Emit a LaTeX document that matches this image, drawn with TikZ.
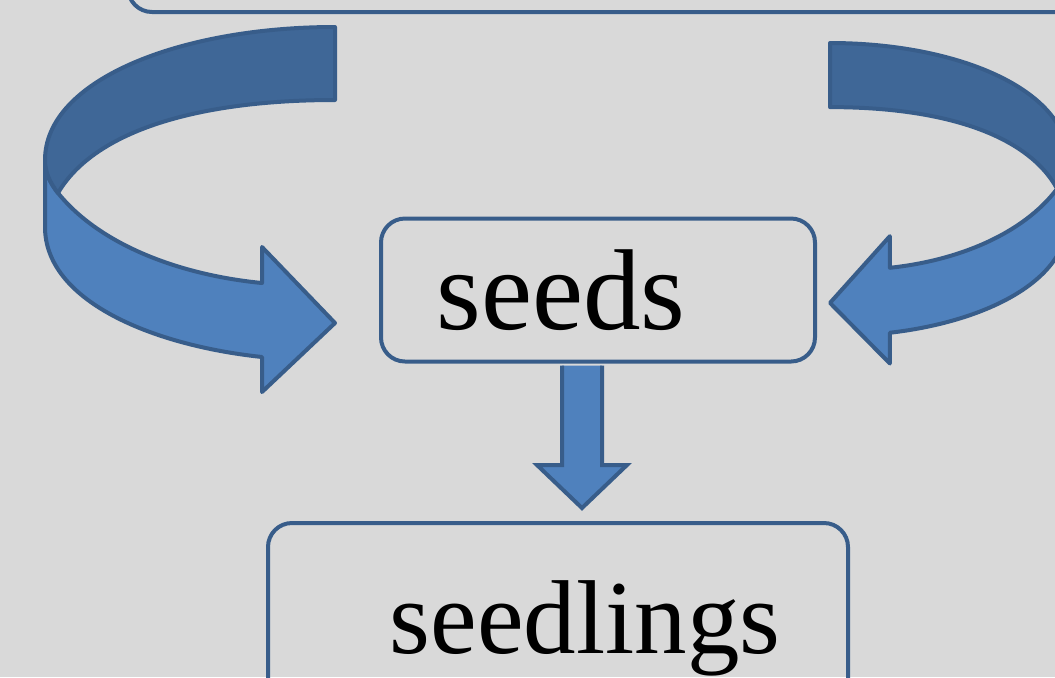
\documentclass[tikz,border=0pt]{standalone}
\usepackage{fontspec}
\setmainfont{Liberation Serif}
\usepackage{tikz}

\definecolor{panelgray}{HTML}{D9D9D9}
\definecolor{edgeblue}{HTML}{385D8A}
\definecolor{bandlight}{HTML}{4F81BD}
\definecolor{banddark}{HTML}{3F6797}

\tikzset{
  stagebox/.style={draw=edgeblue, line width=2pt, rounded corners=12pt, inner sep=0pt},
  lightband/.style={fill=bandlight, draw=edgeblue, line width=2pt, line join=round},
  darkband/.style={fill=banddark, draw=edgeblue, line width=2pt, line join=round}
}

% one bent ribbon arrow, start of the band at (0,0)
\newcommand\bentarrow{%
  \filldraw[lightband] (-290,133) -- (-290,200) .. controls (-290,273) and (-185,318) .. (-73,330)
    -- (-73,365) -- (0,296) -- (-73,220) -- (-73,256)
    .. controls (-155,248) and (-235,218) .. (-277,166)
    .. controls (-285,156) and (-290,145) .. (-290,133) -- cycle;
  \filldraw[darkband] (0,0) -- (0,73) .. controls (-135,73) and (-240,103) .. (-277,166)
    .. controls (-285,156) and (-290,145) .. (-290,133)
    .. controls (-290,53) and (-155,0) .. (0,0) -- cycle;
}

\begin{document}
\begin{tikzpicture}[x=0.5pt,y=-0.5pt]
\useasboundingbox (0,0) rectangle (1055,677);
\clip (0,0) rectangle (1055,677);
\fill[panelgray] (0,0) rectangle (1055,677);
\draw[stagebox] (128,-40) rectangle (1100,12);

\begin{scope}[shift={(335,27)}]
\bentarrow
\end{scope}
\begin{scope}[shift={(830,43)},xscale=-0.82,yscale=0.878]
\bentarrow
\end{scope}

\node[stagebox, minimum width=217pt, minimum height=71.5pt] (seeds) at (598,290)
  {\fontsize{57.5}{64}\selectfont seeds\hspace*{37pt}};
\node[stagebox, minimum width=290pt, minimum height=105.5pt] (seedlings) at (558,628.5)
  {\fontsize{52.5}{58}\selectfont\hspace*{27pt}seedlings};

\coordinate (dstart) at ([xshift=-8pt,yshift=-1pt]seeds.south);
\coordinate (dbase) at (dstart |- seedlings.north);
\coordinate (dtip) at ([yshift=6.5pt]dbase);
\draw[lightband, line join=miter] ([xshift=-10pt]dstart) -- ([xshift=-10pt,yshift=21.5pt]dtip)
  -- ([xshift=-22.5pt,yshift=21.5pt]dtip) -- (dtip) -- ([xshift=22.5pt,yshift=21.5pt]dtip)
  -- ([xshift=10pt,yshift=21.5pt]dtip) -- ([xshift=10pt]dstart);
\end{tikzpicture}
\end{document}
